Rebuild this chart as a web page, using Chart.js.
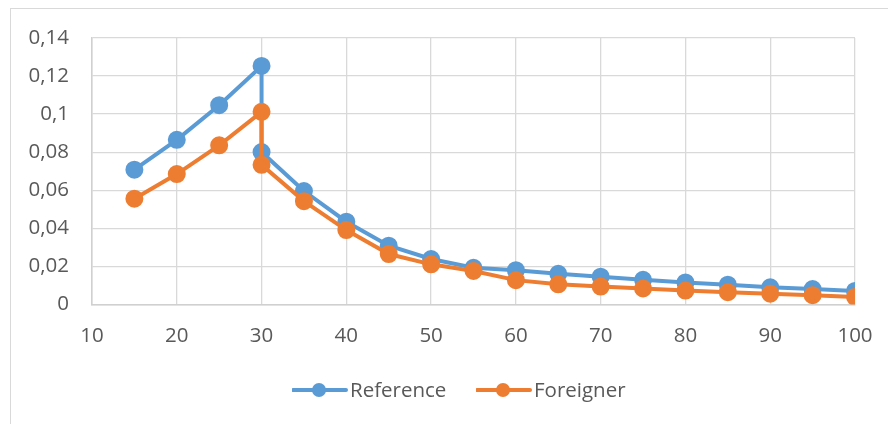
<!DOCTYPE html>
<html>
<head>
<meta charset="utf-8">
<script src="https://cdn.jsdelivr.net/npm/chart.js@4/dist/chart.umd.min.js"></script>
<style>
  html, body { margin: 0; padding: 0; background: #fff; }
  #wrap { position: relative; width: 888px; height: 424px; overflow: hidden; font-family: "Open Sans", sans-serif; }
  #frame { position: absolute; left: 10px; top: 8px; width: 900px; height: 440px; border: 1.5px solid #d9d9d9; box-sizing: border-box; }
  canvas#c { position: absolute; left: 0; top: 0; }
  #legend { position: absolute; top: 374px; left: 0; width: 888px; height: 30px; }
  .item { position: absolute; top: 0; height: 30px; font-size: 20.5px; color: #595959; line-height: 30px; white-space: nowrap; }
  .item svg { position: absolute; left: 0; top: 8px; }
  .item span { position: absolute; top: 0; }
</style>
</head>
<body>
<div id="wrap">
  <div id="frame"></div>
  <canvas id="c" width="888" height="424"></canvas>
  <div id="legend"></div>
</div>
<script>
// ---- data ----
const xValues = [15, 20, 25, 30, 30, 35, 40, 45, 50, 55, 60, 65, 70, 75, 80, 85, 90, 95, 100];
const referenceValues = [0.0708, 0.0865, 0.1047, 0.1253, 0.0801, 0.0596, 0.0435, 0.0309, 0.0239, 0.0193, 0.0180, 0.0161, 0.0146, 0.0130, 0.0116, 0.0104, 0.0090, 0.0081, 0.0071];
const foreignerValues = [0.0556, 0.0685, 0.0836, 0.1012, 0.0734, 0.0543, 0.0391, 0.0265, 0.0211, 0.0176, 0.0128, 0.0106, 0.0094, 0.0084, 0.0073, 0.0065, 0.0057, 0.0049, 0.0040];
const seriesNames = ["Reference", "Foreigner"];
const yTickValues = [0, 0.02, 0.04, 0.06, 0.08, 0.1, 0.12, 0.14];
const xTickValues = [10, 20, 30, 40, 50, 60, 70, 80, 90, 100];

const BLUE = "#5B9BD5", ORANGE = "#ED7D31";
const toPts = (ys) => xValues.map((x, i) => ({ x: x, y: ys[i] }));
const fmt = (v) => String(Math.round(v * 100) / 100).replace(".", ",");

const ctx = document.getElementById("c").getContext("2d");
new Chart(ctx, {
  type: "line",
  data: {
    datasets: [
      { label: seriesNames[0], data: toPts(referenceValues), borderColor: BLUE, backgroundColor: BLUE,
        pointBackgroundColor: BLUE, pointBorderColor: BLUE, borderWidth: 4, pointRadius: 7, pointHoverRadius: 7, order: 1, tension: 0 },
      { label: seriesNames[1], data: toPts(foreignerValues), borderColor: ORANGE, backgroundColor: ORANGE,
        pointBackgroundColor: ORANGE, pointBorderColor: ORANGE, borderWidth: 4, pointRadius: 7, pointHoverRadius: 7, order: 0, tension: 0 }
    ]
  },
  options: {
    responsive: false,
    animation: false,
    devicePixelRatio: 1,
    layout: { padding: { left: 0, top: 38, right: 33, bottom: 0 } },
    plugins: { legend: { display: false }, tooltip: { enabled: false } },
    scales: {
      x: {
        type: "linear", min: 10, max: 100,
        afterBuildTicks: (s) => { s.ticks = xTickValues.map(v => ({ value: v })); },
        afterFit: (s) => { s.height = 119.5; s.paddingLeft = 0; s.paddingRight = 0; },
        grid: { color: "#d9d9d9", lineWidth: 1.3, drawTicks: false },
        border: { color: "#d0d0d0", width: 1.5 },
        ticks: { color: "#595959", font: { family: "Open Sans", size: 20.5 }, padding: 19, maxRotation: 0, autoSkip: false, callback: (v) => String(v) }
      },
      y: {
        type: "linear", min: 0, max: 0.14,
        afterBuildTicks: (s) => { s.ticks = yTickValues.map(v => ({ value: v })); },
        afterFit: (s) => { s.width = 92; s.paddingTop = 0; s.paddingBottom = 0; },
        grid: { color: "#d9d9d9", lineWidth: 1.3, drawTicks: false },
        border: { color: "#d0d0d0", width: 1.5 },
        ticks: { color: "#595959", font: { family: "Open Sans", size: 20.5 }, padding: 23, autoSkip: false, callback: (v) => fmt(v) }
      }
    }
  }
});

// ---- legend (HTML) ----
const legend = document.getElementById("legend");
const legendItems = [
  { name: seriesNames[0], color: BLUE, left: 292 },
  { name: seriesNames[1], color: ORANGE, left: 476 }
];
legendItems.forEach(it => {
  const d = document.createElement("div");
  d.className = "item";
  d.style.left = it.left + "px";
  d.innerHTML = '<svg width="56" height="16"><line x1="1" y1="8" x2="54" y2="8" stroke="' + it.color +
    '" stroke-width="4" stroke-linecap="round"/><circle cx="27" cy="8" r="7" fill="' + it.color + '"/></svg>' +
    '<span style="left:58px">' + it.name + '</span>';
  legend.appendChild(d);
});
</script>
</body>
</html>
